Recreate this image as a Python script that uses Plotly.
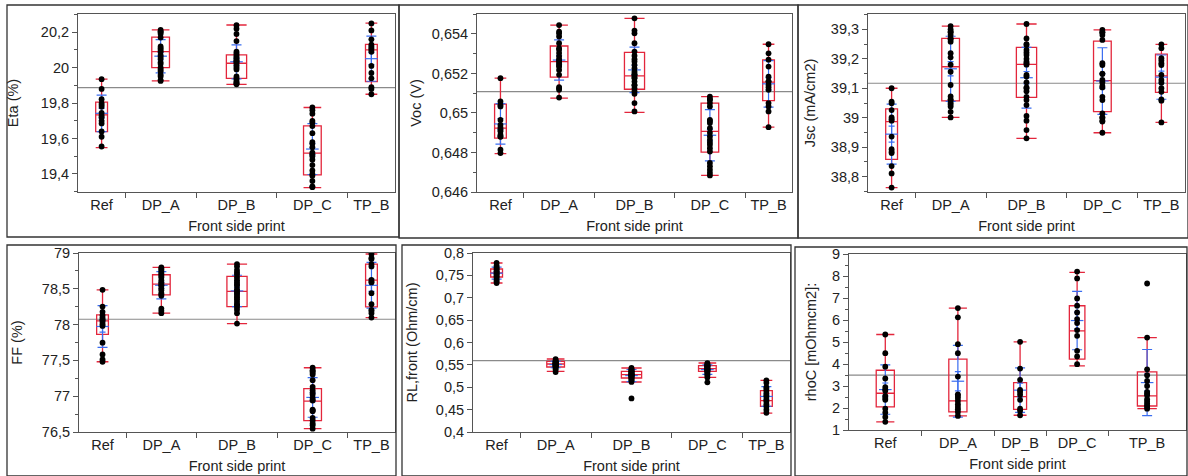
import numpy as np
import plotly.graph_objects as go

W, H = 1188, 476
GROUPS = ["Ref", "DP_A", "DP_B", "DP_C", "TP_B"]
X_TITLE = "Front side print"

# ---------------- Eta (%) ----------------
ETA_POINTS = [
    [19.935, 19.88, 19.822, 19.80, 19.79, 19.78, 19.745, 19.73, 19.72, 19.70, 19.685, 19.64, 19.61, 19.555],
    [20.213, 20.205, 20.20, 20.19, 20.17, 20.12, 20.11, 20.10, 20.09, 20.07, 20.06, 20.05, 20.03, 20.02, 20.0, 19.99, 19.98, 19.96, 19.95, 19.93, 19.925],
    [20.24, 20.22, 20.19, 20.15, 20.09, 20.08, 20.07, 20.06, 20.055, 20.045, 20.04, 20.035, 20.03, 20.02, 20.01, 20.0, 19.99, 19.95, 19.94, 19.93, 19.92, 19.915, 19.91, 19.906],
    [19.775, 19.76, 19.74, 19.70, 19.69, 19.67, 19.63, 19.58, 19.57, 19.55, 19.52, 19.51, 19.50, 19.48, 19.45, 19.42, 19.40, 19.39, 19.36, 19.33, 19.325],
    [20.25, 20.21, 20.16, 20.13, 20.12, 20.11, 20.10, 20.09, 20.01, 19.97, 19.94, 19.89, 19.88, 19.85],
]
ETA_Q1 = [19.639, 20.0, 19.94, 19.395, 19.921]
ETA_MED = [19.733, 20.091, 20.025, 19.517, 20.1]
ETA_Q3 = [19.805, 20.172, 20.072, 19.671, 20.132]
ETA_LO = [19.549, 19.925, 19.906, 19.323, 19.85]
ETA_HI = [19.935, 20.213, 20.241, 19.775, 20.251]

# ---------------- Voc (V) ----------------
VOC_POINTS = [
    [0.65176, 0.65058, 0.65041, 0.65033, 0.64965, 0.6494, 0.64927, 0.64915, 0.64907, 0.6489, 0.64881, 0.6488, 0.64814, 0.64797],
    [0.65445, 0.65412, 0.65403, 0.65387, 0.65353, 0.65328, 0.6532, 0.65303, 0.65286, 0.6527, 0.65269, 0.6526, 0.65252, 0.6524, 0.65235, 0.65218, 0.65193, 0.65131, 0.65125, 0.65117, 0.65078],
    [0.65479, 0.65417, 0.65403, 0.65353, 0.65311, 0.6529, 0.65272, 0.6526, 0.65243, 0.65226, 0.6521, 0.652, 0.65193, 0.6519, 0.6518, 0.65176, 0.65159, 0.65142, 0.6514, 0.65125, 0.6511, 0.65097, 0.6505, 0.65008],
    [0.65083, 0.6507, 0.65067, 0.6505, 0.65033, 0.64965, 0.6496, 0.64949, 0.64923, 0.649, 0.64881, 0.64864, 0.6485, 0.64839, 0.64822, 0.64805, 0.64747, 0.6473, 0.64713, 0.64697, 0.64684],
    [0.65348, 0.65302, 0.6527, 0.65235, 0.65184, 0.6516, 0.65159, 0.65142, 0.6513, 0.65117, 0.6505, 0.65033, 0.65008, 0.64928],
]
VOC_Q1 = [0.64873, 0.65181, 0.6512, 0.64802, 0.65063]
VOC_MED = [0.64923, 0.6526, 0.65188, 0.64907, 0.65156]
VOC_Q3 = [0.65045, 0.65339, 0.65307, 0.6505, 0.65269]
VOC_LO = [0.64794, 0.65075, 0.65003, 0.64684, 0.64928]
VOC_HI = [0.65176, 0.65445, 0.65479, 0.65083, 0.65348]

# ---------------- Jsc (mA/cm2) ----------------
JSC_POINTS = [
    [39.1, 39.055, 39.049, 39.026, 39.001, 38.995, 38.99, 38.936, 38.893, 38.885, 38.88, 38.836, 38.811, 38.763],
    [39.311, 39.3, 39.292, 39.29, 39.281, 39.27, 39.266, 39.258, 39.219, 39.205, 39.18, 39.156, 39.111, 39.072, 39.062, 39.06, 39.051, 39.045, 39.038, 39.02, 39.001],
    [39.318, 39.269, 39.25, 39.247, 39.23, 39.221, 39.213, 39.2, 39.19, 39.185, 39.18, 39.145, 39.14, 39.12, 39.103, 39.1, 39.09, 39.071, 39.06, 39.043, 39.006, 38.99, 38.958, 38.93],
    [39.298, 39.29, 39.289, 39.281, 39.264, 39.185, 39.179, 39.15, 39.148, 39.128, 39.12, 39.108, 39.103, 39.071, 39.06, 39.015, 39.001, 39.0, 38.99, 38.987, 38.949],
    [39.249, 39.236, 39.202, 39.194, 39.185, 39.179, 39.145, 39.128, 39.119, 39.1, 39.088, 39.062, 39.058, 38.984],
]
JSC_Q1 = [38.859, 39.057, 39.069, 39.021, 39.086]
JSC_MED = [38.987, 39.173, 39.181, 39.126, 39.142]
JSC_Q3 = [39.03, 39.269, 39.239, 39.26, 39.216]
JSC_LO = [38.763, 39.001, 38.93, 38.949, 38.984]
JSC_HI = [39.1, 39.311, 39.318, 39.298, 39.249]

# ---------------- FF (%) ----------------
FF_POINTS = [
    [78.486, 78.252, 78.178, 78.131, 78.098, 78.07, 78.065, 78.037, 78.005, 77.981, 77.748, 77.584, 77.514, 77.481],
    [78.799, 78.78, 78.762, 78.74, 78.72, 78.70, 78.68, 78.659, 78.62, 78.589, 78.57, 78.55, 78.542, 78.505, 78.48, 78.44, 78.425, 78.402, 78.224, 78.192, 78.159],
    [78.846, 78.81, 78.762, 78.729, 78.70, 78.659, 78.62, 78.589, 78.56, 78.542, 78.495, 78.47, 78.449, 78.43, 78.402, 78.38, 78.355, 78.32, 78.285, 78.27, 78.238, 78.206, 78.159, 78.014],
    [77.397, 77.364, 77.35, 77.327, 77.304, 77.224, 77.131, 77.084, 77.05, 77.023, 76.977, 76.95, 76.939, 76.813, 76.80, 76.79, 76.696, 76.659, 76.62, 76.594, 76.547],
    [78.986, 78.93, 78.916, 78.846, 78.813, 78.626, 78.60, 78.589, 78.439, 78.285, 78.206, 78.19, 78.159, 78.098],
]
FF_Q1 = [77.864, 78.416, 78.252, 76.659, 78.248]
FF_MED = [78.051, 78.565, 78.463, 76.93, 78.621]
FF_Q3 = [78.135, 78.696, 78.673, 77.107, 78.846]
FF_LO = [77.481, 78.159, 78.014, 76.547, 78.098]
FF_HI = [78.486, 78.799, 78.846, 77.397, 78.986]

# ---------------- RL,front (Ohm/cm) ----------------
RL_POINTS = [
    [0.778, 0.772, 0.768, 0.765, 0.762, 0.759, 0.756, 0.754, 0.751, 0.748, 0.745, 0.741, 0.737, 0.733],
    [0.563, 0.560, 0.558, 0.557, 0.556, 0.555, 0.554, 0.553, 0.553, 0.552, 0.552, 0.551, 0.550, 0.549, 0.548, 0.547, 0.546, 0.545, 0.542, 0.539, 0.534],
    [0.543, 0.541, 0.539, 0.537, 0.536, 0.535, 0.534, 0.533, 0.531, 0.530, 0.529, 0.528, 0.528, 0.527, 0.526, 0.525, 0.524, 0.522, 0.521, 0.519, 0.517, 0.515, 0.512, 0.475],
    [0.554, 0.552, 0.550, 0.549, 0.548, 0.547, 0.546, 0.545, 0.543, 0.542, 0.541, 0.540, 0.539, 0.538, 0.537, 0.535, 0.533, 0.530, 0.527, 0.522, 0.511],
    [0.5155, 0.510, 0.500, 0.496, 0.492, 0.487, 0.482, 0.478, 0.472, 0.468, 0.462, 0.457, 0.450, 0.443],
]
RL_Q1 = [0.7464, 0.5452, 0.5207, 0.5356, 0.4573]
RL_MED = [0.7553, 0.552, 0.5281, 0.5415, 0.47]
RL_Q3 = [0.7642, 0.5579, 0.5356, 0.5482, 0.4924]
RL_LO = [0.733, 0.5356, 0.5117, 0.5222, 0.4424]
RL_HI = [0.7777, 0.5631, 0.543, 0.5542, 0.5155]

# ---------------- rhoC [mOhmcm2] ----------------
RHOC_POINTS = [
    [5.34, 4.49, 3.88, 3.34, 2.95, 2.85, 2.78, 2.55, 2.45, 2.37, 1.97, 1.79, 1.59, 1.37],
    [6.54, 6.12, 4.9, 4.49, 3.43, 2.62, 2.55, 2.45, 2.32, 2.17, 2.05, 1.94, 1.82, 1.64],
    [5.01, 3.79, 3.28, 2.82, 2.73, 2.6, 2.37, 1.97, 1.87, 1.67],
    [8.2, 7.89, 6.98, 6.65, 6.34, 6.04, 5.86, 5.54, 5.28, 4.6, 4.34, 3.99],
    [7.66, 5.2, 3.76, 3.49, 3.23, 3.0, 2.73, 2.65, 2.58, 2.4, 2.3, 2.2, 2.12, 2.05, 1.97],
]
RHOC_Q1 = [2.047, 1.82, 1.94, 4.218, 2.09]
RHOC_MED = [2.67, 2.32, 2.52, 5.51, 2.55]
RHOC_Q3 = [3.717, 4.218, 3.156, 6.647, 3.64]
RHOC_LO = [1.365, 1.64, 1.67, 3.915, 1.97]
RHOC_HI = [5.342, 6.54, 5.01, 8.165, 5.2]

# overall (grand) mean reference lines
GRAND_MEAN = [19.887, 0.65108, 39.117, 78.075, 0.5594, 3.49]

Y_TITLES = ["Eta (%)", "Voc (V)", "Jsc (mA/cm2)", "FF (%)", "RL,front (Ohm/cm)", "rhoC [mOhmcm2]:"]

PANELS = [
    (ETA_POINTS, ETA_Q1, ETA_MED, ETA_Q3, ETA_LO, ETA_HI),
    (VOC_POINTS, VOC_Q1, VOC_MED, VOC_Q3, VOC_LO, VOC_HI),
    (JSC_POINTS, JSC_Q1, JSC_MED, JSC_Q3, JSC_LO, JSC_HI),
    (FF_POINTS, FF_Q1, FF_MED, FF_Q3, FF_LO, FF_HI),
    (RL_POINTS, RL_Q1, RL_MED, RL_Q3, RL_LO, RL_HI),
    (RHOC_POINTS, RHOC_Q1, RHOC_MED, RHOC_Q3, RHOC_LO, RHOC_HI),
]

# ---------------- layout geometry (pixels) ----------------
PLOT_BOXES = [  # x0, x1, y0(top), y1(bottom)
    (78, 395, 14, 192), (477, 792, 14, 192), (868, 1185, 14, 192),
    (79, 395, 253, 432), (473, 790, 253, 432), (849, 1186, 254, 430),
]
Y_RANGES = [(19.298, 20.303), (0.646, 0.65501), (38.748, 39.352), (76.5, 79.0), (0.4, 0.8), (1.0, 9.0)]
Y_DTICK = [0.2, 0.002, 0.1, 0.5, 0.05, 1]
Y_MINOR = [0.1, 0.001, 0.05, 0.25, None, 0.5]
Y_STANDOFF = [18, 6, 11, 15, 14, 11]
FRAMES = [
    (7, 5, 399, 237), (399, 5, 798, 238), (798, 5, 1188, 238),
    (7, 245, 396, 476), (402, 245, 791, 476), (795, 247, 1187, 476),
]

RED = "#e3263c"
BLUE = "#3a6df0"
AXC = "#555555"
FONT = "Liberation Sans, Arial, sans-serif"

fig = go.Figure()
layout = dict(
    width=W, height=H, margin=dict(l=0, r=0, t=0, b=0, autoexpand=False),
    paper_bgcolor="white", plot_bgcolor="white", showlegend=False,
    boxmode="overlay", separators=", ",
    font=dict(family=FONT, size=14.5, color="#222222"),
)
shapes = []

for i, (pts, q1, med, q3, lo, hi) in enumerate(PANELS):
    k = "" if i == 0 else str(i + 1)
    xa, ya = "x" + k, "y" + k
    n = np.array([len(p) for p in pts], dtype=float)
    bounds = np.cumsum(n)
    centers = bounds - n / 2.0
    total = bounds[-1]

    # points
    px, py = [], []
    for c, p in zip(centers, pts):
        px += [c] * len(p)
        py += list(p)

    # boxes
    for j, g in enumerate(GROUPS):
        fig.add_trace(go.Box(
            x=[centers[j]], q1=[q1[j]], median=[med[j]], q3=[q3[j]],
            lowerfence=[lo[j]], upperfence=[hi[j]],
            width=0.25 * n[j], whiskerwidth=1, boxpoints=False,
            line=dict(color=RED, width=1.3), fillcolor="rgba(0,0,0,0)",
            name=g, xaxis=xa, yaxis=ya, hoverinfo="skip",
        ))

    # mean, std dev and standard error (blue)
    means = np.array([np.mean(p) for p in pts])
    sds = np.array([np.std(p, ddof=1) for p in pts])
    ses = sds / np.sqrt(n)
    fig.add_trace(go.Scatter(
        x=centers, y=means, mode="markers", xaxis=xa, yaxis=ya,
        marker=dict(symbol="line-ew", size=9, line=dict(color=BLUE, width=1.2)),
        error_y=dict(type="data", array=sds, color=BLUE, thickness=1.2, width=5),
        hoverinfo="skip",
    ))
    fig.add_trace(go.Scatter(
        x=centers, y=means, mode="markers", xaxis=xa, yaxis=ya,
        marker=dict(size=1, color="rgba(0,0,0,0)"),
        error_y=dict(type="data", array=ses, color=BLUE, thickness=1.2, width=3),
        hoverinfo="skip",
    ))
    fig.add_trace(go.Scatter(
        x=px, y=py, mode="markers", xaxis=xa, yaxis=ya,
        marker=dict(color="black", size=5.8),
        hoverinfo="skip",
    ))

    x0, x1, t, b = PLOT_BOXES[i]
    layout["xaxis" + k] = dict(
        domain=[x0 / W, x1 / W], anchor=ya, range=[0, total], automargin=False,
        tickmode="array", tickvals=list(centers), ticktext=GROUPS,
        ticks="", ticklen=0, showgrid=False, zeroline=False,
        showline=True, linecolor=AXC, linewidth=1, mirror=True,
        minor=dict(tickmode="array", tickvals=list(bounds[:-1]), ticks="outside",
                   ticklen=5, tickcolor=AXC, showgrid=False),
        title=dict(text=X_TITLE, standoff=8, font=dict(size=14.5)),
        tickfont=dict(size=14.5),
    )
    yr = Y_RANGES[i]
    ydict = dict(
        domain=[1 - b / H, 1 - t / H], anchor=xa, range=list(yr), automargin=False,
        tick0=0, dtick=Y_DTICK[i], ticks="outside", ticklen=5, tickcolor=AXC,
        showgrid=False, zeroline=False,
        showline=True, linecolor=AXC, linewidth=1, mirror=True,
        title=dict(text=Y_TITLES[i], standoff=Y_STANDOFF[i], font=dict(size=14.5)),
        tickfont=dict(size=14.5),
    )
    if Y_MINOR[i]:
        ydict["minor"] = dict(dtick=Y_MINOR[i], tick0=0, ticks="outside", ticklen=3,
                              tickcolor=AXC, showgrid=False)
    layout["yaxis" + k] = ydict

    # grand mean line
    shapes.append(dict(type="line", xref=xa + " domain", yref=ya,
                       x0=0, x1=1, y0=GRAND_MEAN[i], y1=GRAND_MEAN[i],
                       line=dict(color="#8a8a8a", width=1.2), layer="below"))

for (fx0, fy0, fx1, fy1) in FRAMES:
    shapes.append(dict(type="rect", xref="paper", yref="paper",
                       x0=fx0 / W, x1=fx1 / W, y0=1 - fy1 / H, y1=1 - fy0 / H,
                       line=dict(color="#333333", width=1.3), fillcolor="rgba(0,0,0,0)"))

layout["shapes"] = shapes
fig.update_layout(**layout)
fig.write_html(
    "out.html",
    config={"displayModeBar": False},
    post_script="document.body.style.margin='0';document.body.style.padding='0';",
)
